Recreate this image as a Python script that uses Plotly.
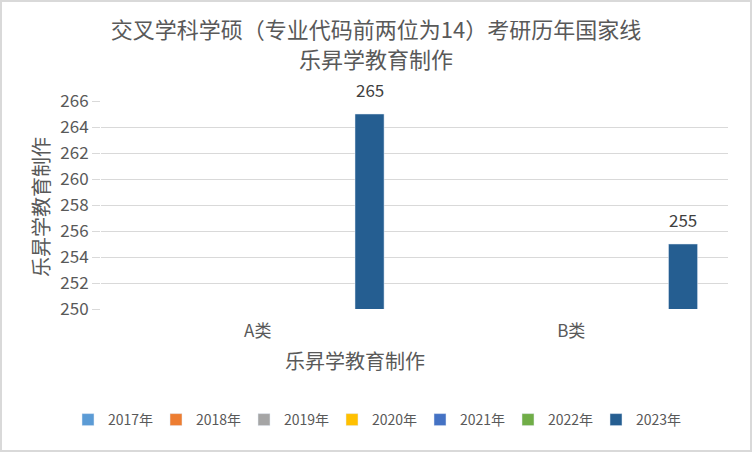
import plotly.graph_objects as go

categories = ["A类", "B类"]
years = ["2017年", "2018年", "2019年", "2020年", "2021年", "2022年", "2023年"]
values = {
    "2017年": [None, None],
    "2018年": [None, None],
    "2019年": [None, None],
    "2020年": [None, None],
    "2021年": [None, None],
    "2022年": [None, None],
    "2023年": [265, 255],
}
colors = ["#5B9BD5", "#ED7D31", "#A5A5A5", "#FFC000", "#4472C4", "#70AD47", "#255E91"]
y_ticks = list(range(250, 267, 2))
title_line1 = "交叉学科学硕（专业代码前两位为14）考研历年国家线"
title_line2 = "乐昇学教育制作"

FONT = "Noto Sans CJK SC, Noto Sans, sans-serif"
W, H = 752, 452
ML, MR, MT, MB = 101, 24, 101, 143
PW, PH = W - ML - MR, H - MT - MB
BARGAP, GROUPGAP = 0.168, 0.22

fig = go.Figure()
for yr, col in zip(years, colors):
    vals = values[yr]
    fig.add_trace(go.Bar(x=categories, y=vals, name=yr, marker_color=col))

# data labels above bars, positioned through the category axis
n = len(years)
slot = PW / len(categories) * (1 - BARGAP) / n
for i, yr in enumerate(years):
    for cat, v in zip(categories, values[yr]):
        if v is None:
            continue
        fig.add_annotation(x=cat, y=v, xref="x", yref="y", text=str(v),
                           showarrow=False, xshift=(i - (n - 1) / 2) * slot,
                           yshift=25, yanchor="middle",
                           font=dict(size=17, color="#404040", family=FONT))

fig.update_layout(
    width=W, height=H,
    margin=dict(l=ML, r=MR, t=MT, b=MB, autoexpand=False),
    paper_bgcolor="white", plot_bgcolor="white",
    barmode="group", bargap=BARGAP, bargroupgap=GROUPGAP,
    font=dict(family=FONT, color="#595959"),
    title=dict(
        text=title_line1,
        x=0.5, xref="container", xanchor="center",
        y=1 - 30 / H, yref="container", yanchor="middle",
        font=dict(size=22, color="#595959", family=FONT),
    ),
    xaxis=dict(showgrid=False, showline=False, ticks="", ticklabelstandoff=10,
               tickfont=dict(size=17, color="#595959", family=FONT)),
    yaxis=dict(range=[250, 266], tickvals=y_ticks, showgrid=True,
               gridcolor="#D9D9D9", gridwidth=1.3, zeroline=False,
               showline=False, ticks="outside", ticklen=8, tickcolor="#D9D9D9",
               tickfont=dict(size=17, color="#595959", family=FONT)),
    legend=dict(orientation="h", x=0.5, xref="container", xanchor="center",
                y=(H - 420) / H, yref="container", yanchor="middle",
                font=dict(size=14, color="#595959", family=FONT),
                itemwidth=30, entrywidth=43, traceorder="normal"),
    showlegend=True,
)

fig.add_annotation(text=title_line2, xref="paper", yref="paper",
                   x=(376 - ML) / PW, y=(MT + PH - 58) / PH,
                   xanchor="center", yanchor="middle",
                   showarrow=False, font=dict(size=22, color="#595959", family=FONT))
fig.add_annotation(text="乐昇学教育制作", xref="paper", yref="paper",
                   x=(355 - ML) / PW, y=(MT + PH - 360) / PH,
                   xanchor="center", yanchor="middle",
                   showarrow=False, font=dict(size=20, color="#595959", family=FONT))
fig.add_annotation(text="乐昇学教育制作", xref="paper", yref="paper",
                   x=(40 - ML) / PW, y=(MT + PH - 207) / PH, textangle=-90,
                   xanchor="center", yanchor="middle",
                   showarrow=False, font=dict(size=20, color="#595959", family=FONT))

fig.add_shape(type="rect", xref="paper", yref="paper",
              x0=(1 - ML) / PW, x1=(W - 1 - ML) / PW,
              y0=(MT + PH - (H - 1)) / PH, y1=(MT + PH - 1) / PH,
              line=dict(color="#D9D9D9", width=2), layer="below")

fig.write_html("out.html")
